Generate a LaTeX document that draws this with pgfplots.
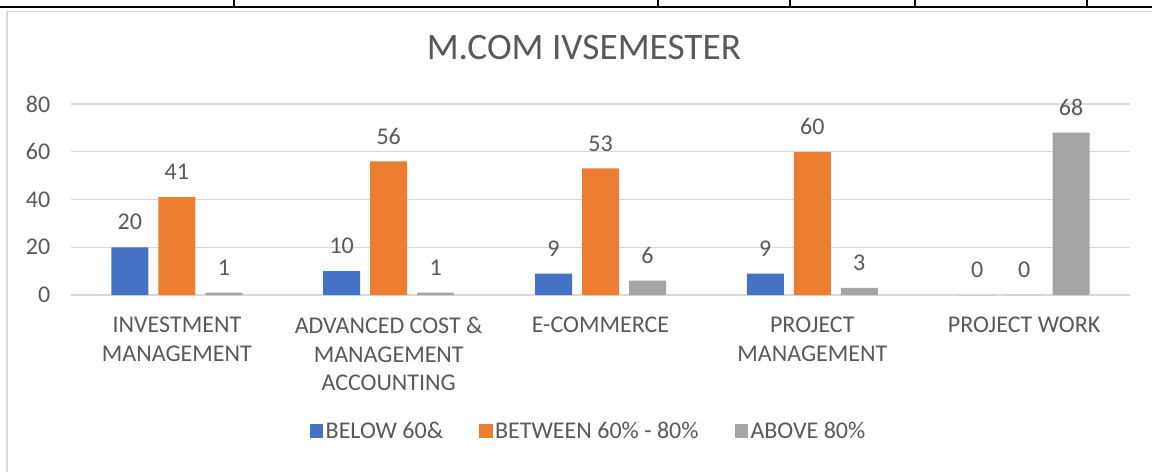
\documentclass[border=0pt]{standalone}
\usepackage{pgfplots}
\pgfplotsset{compat=1.18}
\usepackage{fontspec}
\setmainfont{Carlito}
\definecolor{cblue}{HTML}{4472C4}
\definecolor{corange}{HTML}{ED7D31}
\definecolor{cgray}{HTML}{A5A5A5}
\definecolor{ctext}{HTML}{595959}
\definecolor{cgrid}{HTML}{D9D9D9}
\newcommand{\lblfont}{\fontsize{18}{21.4}\selectfont}
\begin{document}
\begin{tikzpicture}
\path[use as bounding box, fill=white] (0,0) rectangle (864pt,354pt);
\draw[cgrid, line width=0.9pt] (5.25pt,0) -- (5.25pt,345.5pt) -- (864pt,345.5pt);
\draw[black, line width=1.4pt] (0,348.5pt) -- (864pt,348.5pt);
\foreach \x in {175.5,493.5,592.5,686.25,815.25} \draw[black,line width=0.8pt] (\x pt,348.5pt) -- (\x pt,354pt);
\begin{axis}[
  at={(53.25pt,132.75pt)}, anchor=south west,
  scale only axis, width=794.25pt, height=143.25pt,
  ymin=0, ymax=80, ytick={0,20,...,80},
  xmin=-0.5, xmax=4.5, xtick={0,...,4},
  xticklabels={{INVESTMENT\\MANAGEMENT},{ADVANCED COST \&\\MANAGEMENT\\ACCOUNTING},{E-COMMERCE},{PROJECT\\MANAGEMENT},{PROJECT WORK}},
  xticklabel style={align=center, anchor=north, font=\lblfont, text=ctext, yshift=-9pt},
  yticklabel style={font=\lblfont, text=ctext, anchor=east, xshift=-12pt},
  ybar=7.5pt, bar width=27.75pt,
  axis line style={draw=none}, tick style={draw=none},
  ymajorgrids, grid style={cgrid, line width=0.9pt},
  /pgf/number format/assume math mode=true,
  nodes near coords,
  every node near coord/.append style={anchor=center, yshift=18.75pt, font=\lblfont, text=ctext},
  legend columns=3,
  legend style={at={(0.489,-0.712)}, anchor=center, draw=none, fill=none, font=\lblfont, text=ctext,
    /tikz/every even column/.append style={column sep=25pt}},
  legend image code/.code={\path[#1,draw=none] (0pt,-5pt) rectangle (10pt,5pt);},
]
\addplot[fill=cblue, draw=none] coordinates {(0,20) (1,10) (2,9) (3,9) (4,0)};
\addplot[fill=corange, draw=none] coordinates {(0,41) (1,56) (2,53) (3,60) (4,0)};
\addplot[fill=cgray, draw=none] coordinates {(0,1) (1,1) (2,6) (3,3) (4,68)};
\legend{BELOW 60\&, BETWEEN 60\% - 80\%, ABOVE 80\%}
\end{axis}
\node[font=\fontsize{28}{32}\selectfont, text=ctext] at (438pt,318pt) {M.COM IVSEMESTER};
\end{tikzpicture}
\end{document}
